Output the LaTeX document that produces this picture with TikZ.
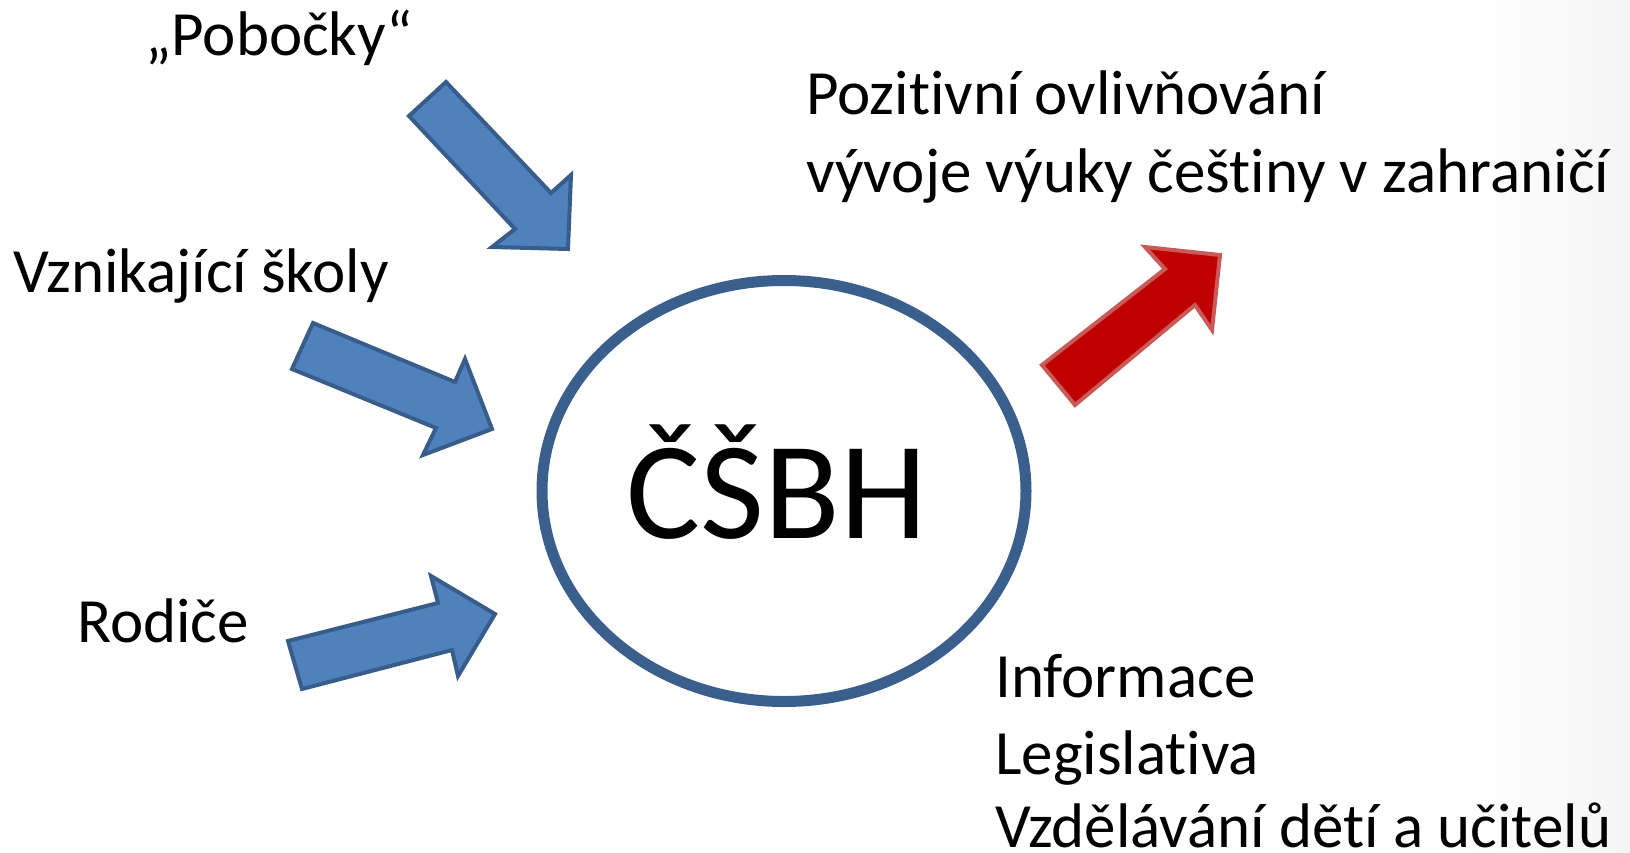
\documentclass[tikz,border=0pt]{standalone}
\usepackage{fontspec}
\setmainfont{Carlito}[Ligatures={NoCommon,NoRare,NoContextual},Contextuals={NoAlternate}]
\usetikzlibrary{shapes.geometric}
\definecolor{bluefill}{HTML}{4F81BD}
\definecolor{blueline}{HTML}{385D8A}
\definecolor{ringline}{HTML}{3A5F8D}
\definecolor{redfill}{HTML}{C00000}
\definecolor{redline}{HTML}{C95A57}
\newcommand\nolg{\kern0pt\relax}
\tikzset{
  lbl/.style={anchor=base west, inner sep=0pt, font=\fontsize{63}{77}\selectfont},
  inarrow/.style={fill=bluefill, draw=blueline, line width=4pt, line join=miter},
  outarrow/.style={fill=redfill, draw=redline, line width=4pt, line join=miter},
}
\begin{document}
\begin{tikzpicture}[x=1pt,y=-1pt]
\useasboundingbox (0,0) rectangle (1630,853);
% subtle background shading on the right
\shade[left color=white, right color=black!4, shading angle=90] (1470,0) rectangle (1630,853);

% centre ellipse
\node[ellipse, draw=ringline, line width=11pt, fill=white, minimum width=484pt, minimum height=421pt, inner sep=0pt] (hub) at (784,491) {};
\node[anchor=base, inner sep=0pt, font=\fontsize{139}{160}\selectfont] (hubtxt) at (777,538) {ČŠBH};

% labels
\node[lbl] (pob) at (145,56) {„Pobočky“};
\node[lbl] (skoly) at (13,292) {Vznikající školy};
\node[lbl] (rod) at (77,642) {Rodiče};
\node[lbl] (poz1) at (806,115) {Pozit\nolg ivní ovlivňování};
\node[lbl] (poz2) at (806,193) {vývoje výuky češt\nolg iny v zahraničí};
\node[lbl] (inf) at (995,697) {Informace};
\node[lbl] (leg) at (995,774) {Legislat\nolg iva};
\node[lbl] (vzd) at (995,847) {Vzdělávání dět\nolg í a učitelů};

% block arrows
\draw[inarrow] (409,116) -- (446,82) -- (551,193) -- (571,175) -- (568,249) -- (492,247) -- (515,229) -- cycle;
\draw[inarrow] (313,323) -- (292,369) -- (436,428) -- (423,455) -- (492,429) -- (465,359) -- (455,382) -- cycle;
\draw[inarrow] (288,641) -- (302,689) -- (452,650) -- (458,676) -- (495,614) -- (431,576) -- (438,603) -- cycle;
\draw[outarrow] (1042,365) -- (1075,405) -- (1195,305) -- (1212,330) -- (1220,255) -- (1145,247) -- (1165,269) -- cycle;
\end{tikzpicture}
\end{document}
